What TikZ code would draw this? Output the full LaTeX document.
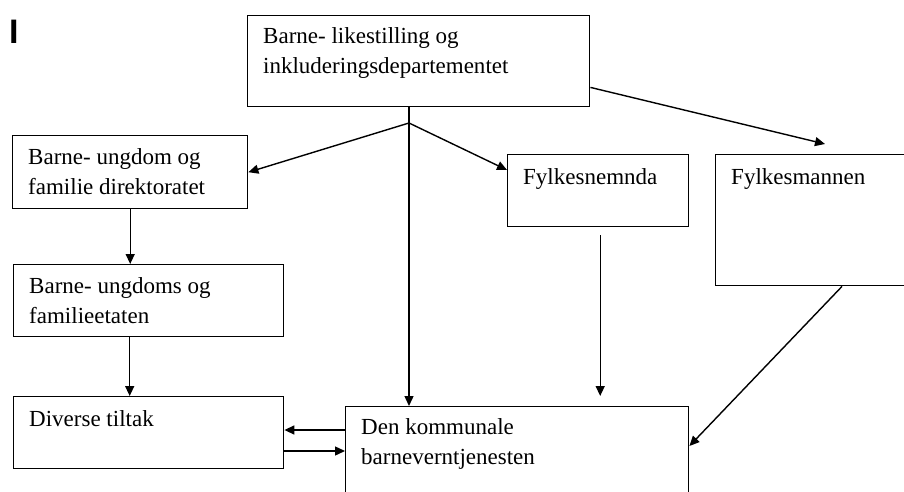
\documentclass[tikz,border=0pt]{standalone}
\usepackage{fontspec}
\setmainfont{Liberation Serif}
\newfontfamily\markfont{Liberation Sans}
\usetikzlibrary{arrows.meta,positioning}

\begin{document}
\begin{tikzpicture}[x=1pt, y=-1pt,
  unit/.style={draw, line width=1.4pt, anchor=north west, inner sep=0pt},
  txt/.style={anchor=north west, inner sep=0pt, align=left,
    font=\fontsize{23}{30}\selectfont},
  arr/.style={line width=1.4pt, -{Triangle[length=10pt,width=9pt]}}]
  \useasboundingbox (0,0) rectangle (904,492);
  \clip (0,0) rectangle (904,492);

  % Draw mark
  \node[font=\markfont\bfseries\fontsize{34}{34}\selectfont, anchor=base west,
    inner sep=0pt] (mark) at (9,44) {I};

  % Draw boxes
  \node[unit, minimum width=342pt, minimum height=91pt] (bld) at (247,15) {};
  \node[unit, minimum width=235pt, minimum height=73pt] (bufdir) at (12,135) {};
  \node[unit, minimum width=270pt, minimum height=72pt] (bufetat) at (13,264) {};
  \node[unit, minimum width=270pt, minimum height=72pt] (tiltak) at (13,396) {};
  \node[unit, minimum width=181pt, minimum height=72pt] (nemnda) at (507,154) {};
  \node[unit, minimum width=230pt, minimum height=131pt] (mannen) at (715,154) {};
  \node[unit, minimum width=343pt, minimum height=120pt] (kommune) at (345,406) {};

  % Draw texts
  \node[txt] (bld-txt) at ([xshift=16pt,yshift=-12pt]bld.north west)
    {Barne- likestilling og\\inkluderingsdepartementet};
  \node[txt] (bufdir-txt) at ([xshift=16pt,yshift=-13pt]bufdir.north west)
    {Barne- ungdom og\\familie direktoratet};
  \node[txt] (bufetat-txt) at ([xshift=16pt,yshift=-13pt]bufetat.north west)
    {Barne- ungdoms og\\familieetaten};
  \node[txt] (tiltak-txt) at ([xshift=16pt,yshift=-14pt]tiltak.north west)
    {Diverse tiltak};
  \node[txt] (nemnda-txt) at ([xshift=16pt,yshift=-14pt]nemnda.north west)
    {Fylkesnemnda};
  \node[txt] (mannen-txt) at ([xshift=16pt,yshift=-14pt]mannen.north west)
    {Fylkesmannen};
  \node[txt] (kommune-txt) at ([xshift=16pt,yshift=-12pt]kommune.north west)
    {Den kommunale\\barneverntjenesten};

  % Draw arrows
  \coordinate (hub) at (409,123);
  \draw[line width=1.4pt] (hub |- bld.south) -- (hub);
  \draw[arr] (hub) -- (kommune.north -| hub);
  \draw[arr] (hub) -- (bufdir.east);
  \draw[arr] (hub) -- ([yshift=-16pt]nemnda.north west);
  \draw[arr] ([yshift=20pt]bld.south east) -- ([xshift=110pt,yshift=10pt]mannen.north west);
  \draw[arr] (bufdir.south) -- (bufdir.south |- bufetat.north);
  \draw[arr] ([xshift=-19pt]bufetat.south) -- ([xshift=-19pt]bufetat.south |- tiltak.north);
  \draw[arr] ([xshift=2pt,yshift=-8pt]nemnda.south)
    -- ([xshift=2pt,yshift=10pt]nemnda.south |- kommune.north);
  \draw[arr] ([xshift=127pt]mannen.south west) -- ([yshift=-40pt]kommune.north east);
  \draw[arr] ([yshift=-24pt]kommune.north west) -- ([yshift=-24pt]kommune.north west -| tiltak.east);
  \draw[arr] ([yshift=-45pt]kommune.north west -| tiltak.east) -- ([yshift=-45pt]kommune.north west);
\end{tikzpicture}
\end{document}
